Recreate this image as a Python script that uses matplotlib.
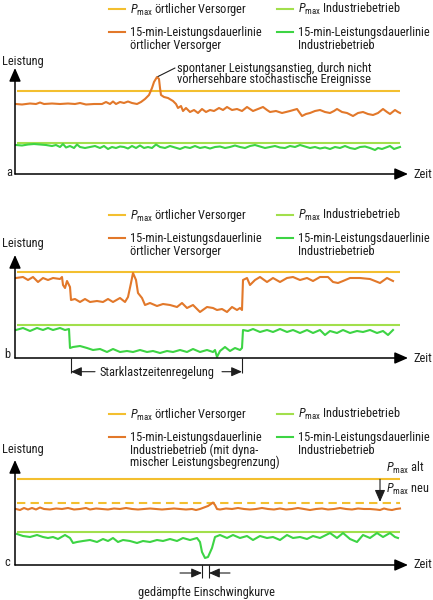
import matplotlib
matplotlib.use('Agg')
import matplotlib.pyplot as plt
from matplotlib import font_manager as fm
from matplotlib.lines import Line2D

# ---- data (time in arbitrary units, power in arbitrary units) ----
# panel a
PMAX_V_A = 83.3
PMAX_I_A = 31.3
ORANGE_A_T = [0, 6, 14, 20, 24, 28, 36, 44, 52, 59, 64, 70, 78, 86, 90, 94, 97, 100, 104, 108,
              112, 116, 121, 125, 129, 133, 136, 138, 141, 143, 144, 145, 148, 152, 157, 160, 162, 165, 167, 170,
              174, 178, 182, 186, 190, 194, 198, 203, 207, 211, 216, 221, 226, 231, 237, 242, 247, 251, 254, 260,
              266, 270, 274, 281, 286, 290, 294, 299, 304, 309, 314, 318, 321, 326, 331, 337, 342, 347, 352, 357,
              362, 367, 371, 374, 379, 382, 384]
ORANGE_A_P = [70, 69.5, 70.5, 70, 71.5, 70, 70.5, 70, 70.5, 70, 71, 69.5, 70, 70, 72, 70, 72.5, 70, 72, 71,
              72.5, 71, 70, 72, 75, 79, 86, 92, 97, 95, 86, 79, 77, 76, 73, 70, 66, 68, 63, 66,
              62, 64, 61, 65, 62, 64, 63, 66, 64, 67, 64, 65, 63, 67, 63, 65, 67, 64, 62, 63,
              61, 62, 63, 65, 58, 60, 61, 63, 64, 62, 61, 63, 65, 62, 61, 58, 61, 62, 60, 59,
              61, 65, 62, 60, 64, 62, 61]
GREEN_A_T = [0, 6, 12, 18, 24, 30, 36, 40, 44, 47, 50, 54, 58, 61, 64, 69, 74, 79, 84, 88,
             92, 96, 100, 104, 108, 112, 116, 120, 124, 128, 132, 136, 140, 144, 149, 154, 159, 164, 169, 174,
             179, 184, 189, 194, 199, 204, 209, 214, 219, 224, 229, 234, 239, 244, 249, 254, 259, 264, 269, 274,
             279, 284, 289, 294, 299, 304, 309, 314, 319, 324, 329, 334, 339, 344, 349, 354, 359, 362, 366, 370,
             374, 378, 381, 384]
GREEN_A_P = [29, 28.5, 29.5, 30, 29.5, 29, 28, 29, 27, 30, 26.5, 28, 26, 29.5, 27, 26, 27, 28, 26, 28,
             25, 27, 26, 27.5, 27, 25.5, 28, 26, 28.5, 26, 27, 26, 29.5, 27, 26, 28, 26.5, 25, 27, 26,
             28, 26, 27, 25.5, 27, 27.5, 26, 27, 28.5, 27, 26, 28, 29, 27.5, 26, 27, 28, 26.5, 26, 28,
             27, 29, 27.5, 26, 27, 25.5, 26.5, 25, 27, 26, 28, 26, 25, 27, 27.5, 26, 24, 26, 25, 26.5,
             28, 25, 26, 27]

# panel b
PMAX_V_B = 85.7
PMAX_I_B = 33
ORANGE_B_T = [0, 7, 12, 17, 22, 27, 32, 37, 44, 46, 47, 49, 51, 54, 55, 59, 64, 69, 74, 81,
              87, 92, 97, 104, 109, 112, 115, 117, 120, 122, 126, 129, 134, 141, 147, 154, 161, 166, 171, 177,
              184, 191, 197, 201, 206, 211, 216, 221, 224, 226, 227, 231, 234, 239, 244, 251, 257, 264, 271, 277,
              284, 291, 297, 304, 312, 317, 322, 327, 334, 344, 354, 364, 371, 377]
ORANGE_B_P = [80, 81, 78, 81, 76, 80, 78, 80, 79, 81, 73, 70, 77, 71, 58, 59, 56, 59, 56, 57,
              56, 59, 56, 60, 56, 61, 75, 85, 78, 65, 60, 53, 55, 52, 54, 53, 51, 55, 50, 53,
              46, 51, 50, 48, 49, 46, 51, 48, 50, 48, 78, 80, 73, 78, 81, 76, 80, 76, 80, 81,
              78, 80, 77, 81, 81, 76, 75, 77, 80, 80, 79, 75, 80, 77]
GREEN_B_T = [0, 7, 14, 21, 27, 32, 37, 44, 49, 53, 54, 57, 64, 71, 77, 84, 91, 97, 104, 111,
             117, 124, 131, 137, 144, 151, 157, 164, 171, 177, 184, 191, 197, 199, 201, 204, 209, 214, 219, 224,
             226, 227, 232, 237, 244, 251, 257, 264, 271, 277, 284, 291, 297, 304, 309, 314, 321, 327, 334, 341,
             347, 354, 361, 367, 372, 377]
GREEN_B_P = [28, 30, 27, 30, 28, 30, 28, 30, 28, 29, 10, 11, 12, 10, 8, 9, 6, 9, 6, 7,
             6, 8, 6, 7, 5, 7, 6, 8, 6, 9, 6, 8, 6, 8, 1, 7, 11, 7, 10, 8,
             10, 28, 27, 29, 26, 28, 26, 29, 26, 28, 25, 28, 25, 28, 23, 27, 25, 28, 25, 27,
             26, 28, 25, 27, 23, 28]
STARKLAST = (55, 226)

# panel c
PMAX_V_C_ALT = 85.7
PMAX_V_C_NEU = 62.3
PMAX_I_C = 33.3
ORANGE_C_T = [0, 4, 8, 12, 16, 20, 24, 28, 34, 40, 46, 52, 58, 64, 70, 74, 80, 86, 92, 98,
              104, 110, 116, 122, 128, 134, 140, 146, 152, 158, 164, 170, 176, 180, 184, 188, 192, 195, 197, 199,
              201, 204, 210, 216, 222, 228, 234, 240, 246, 252, 258, 264, 270, 276, 282, 288, 294, 300, 306, 312,
              318, 324, 330, 336, 342, 348, 354, 360, 364, 368, 372, 376, 380, 384]
ORANGE_C_P = [56, 55, 57, 55.5, 57, 55.5, 57.5, 56, 55.5, 56.5, 56, 57, 55.5, 56, 57, 55.5, 56.5, 56, 55.5, 56.5,
              56, 57, 56, 55.5, 56, 56.5, 56, 55.5, 56, 56.5, 56, 55.5, 56, 55, 56, 57.5, 59, 61, 62.5, 60,
              56, 55.5, 56.5, 56, 57, 56, 55.5, 56, 57, 56, 55.5, 56.5, 55.5, 56, 57, 56, 55, 56, 56.5, 55.5,
              56, 57, 56, 55.5, 56.5, 56, 56, 55.5, 55, 56.5, 55.5, 55, 56, 56.5]
GREEN_C_T = [1, 7, 14, 21, 27, 32, 37, 42, 49, 54, 57, 61, 67, 74, 81, 87, 92, 97, 102, 107,
             114, 121, 127, 134, 141, 147, 154, 161, 167, 174, 181, 184, 186, 189, 192, 196, 199, 204, 211, 217,
             224, 231, 237, 244, 251, 257, 264, 271, 277, 284, 291, 297, 304, 314, 321, 327, 334, 341, 347, 354,
             361, 367, 374, 379, 382]
GREEN_C_P = [31, 29, 28, 30, 28, 27, 28, 26, 30, 27, 22, 23, 24, 25, 23, 26, 24, 27, 23, 25,
             24, 22, 24, 23, 25, 24, 26, 24, 27, 25, 27, 23, 13, 7, 8, 17, 28, 30, 27, 30,
             27, 29, 25, 29, 27, 28, 25, 30, 27, 28, 26, 29, 27, 32, 27, 32, 26, 23, 30, 27,
             32, 28, 32, 28, 27]
EINSCHWING = (186, 193)

PMAX = r'$P_{\mathrm{max}}$'
LABEL_ORANGE_AB = ['15-min-Leistungsdauerlinie', 'örtlicher Versorger']
LABEL_ORANGE_C = ['15-min-Leistungsdauerlinie', 'Industriebetrieb (mit dyna-', 'mischer Leistungsbegrenzung)']


# ---- font: the original uses a condensed sans, take the narrowest one we have ----
def pick_font():
    entries = fm.fontManager.ttflist
    for name in ['Liberation Sans Narrow', 'Roboto Condensed', 'Open Sans Condensed',
                 'Noto Sans Condensed', 'DejaVu Sans Condensed']:
        if any(f.name == name for f in entries):
            return name, 'normal'
    for name in ['Noto Sans', 'Open Sans', 'Roboto', 'DejaVu Sans']:
        for f in entries:
            if f.name == name and f.stretch in ('condensed', 'semi-condensed') and f.style == 'normal':
                return name, f.stretch
    return 'Liberation Sans', 'normal'


FONT, STRETCH = pick_font()
plt.rcParams['font.family'] = [FONT, 'DejaVu Sans']
plt.rcParams['font.stretch'] = STRETCH
plt.rcParams['mathtext.fontset'] = 'custom'
plt.rcParams['mathtext.rm'] = FONT
plt.rcParams['mathtext.it'] = FONT + ':italic'

# ---- style ----
TEXT = '#1e1e1e'
YELLOW = '#f3bf2f'
ORANGE = '#e2782a'
LGREEN = '#a2df4c'
GREEN = '#3dd444'
LW = 1.5

W, H = 433, 600
fig = plt.figure(figsize=(W / 100, H / 100), dpi=100)

# size the text so that the long legend line is as wide as in the original (~133 px)
probe = fig.text(0, 0, '15-min-Leistungsdauerlinie', fontsize=9)
w = probe.get_window_extent(fig.canvas.get_renderer()).width
probe.remove()
FS = min(9.5, max(7, 9 * 133 / w))


def fx(px):
    return px / W


def fy(py):
    return 1 - py / H


def ftext(x, y, s, **kw):
    fig.text(fx(x), fy(y), s, fontsize=FS, color=TEXT, va='baseline', **kw)


def legend(y0, orange_lines):
    rows = [(109, y0, YELLOW, [PMAX + ' örtlicher Versorger']),
            (277, y0, LGREEN, [PMAX + ' Industriebetrieb']),
            (109, y0 + 23, ORANGE, orange_lines),
            (277, y0 + 23, GREEN, ['15-min-Leistungsdauerlinie', 'Industriebetrieb'])]
    for x, y, c, lines in rows:
        fig.add_artist(Line2D([fx(x), fx(x + 16)], [fy(y), fy(y)], color=c, lw=LW))
        for i, s in enumerate(lines):
            ftext(x + 21, y + 4.3 + i * 12.4, s)


def arrow(ax, start, end, ms=8):
    ax.annotate('', xy=end, xytext=start,
                arrowprops=dict(arrowstyle='-|>,head_length=0.8,head_width=0.35',
                                color=TEXT, lw=0.8, shrinkA=0, shrinkB=0,
                                mutation_scale=ms),
                annotation_clip=False)


def make_axes(top, bottom):
    ax = fig.add_axes([fx(15), fy(bottom), fx(408) - fx(15), fy(top) - fy(bottom)])
    ax.set_xlim(-1, 392)
    ax.set_ylim(0, bottom - top)
    ax.axis('off')
    for end in [(1, 0), (0, 1)]:
        ax.annotate('', xy=end, xytext=(0, 0), xycoords='axes fraction',
                    arrowprops=dict(arrowstyle='-|>,head_length=0.8,head_width=0.35',
                                    color='black', lw=1.1, shrinkA=0, shrinkB=0,
                                    mutation_scale=10))
    return ax


# ---- panel a ----
legend(9, LABEL_ORANGE_AB)
ax = make_axes(68, 174)
ax.hlines(PMAX_V_A, 1, 384, color=YELLOW, lw=LW)
ax.hlines(PMAX_I_A, 1, 384, color=LGREEN, lw=LW)
ax.plot(ORANGE_A_T, ORANGE_A_P, color=ORANGE, lw=LW)
ax.plot(GREEN_A_T, GREEN_A_P, color=GREEN, lw=LW)
peak = ORANGE_A_P.index(max(ORANGE_A_P))
ax.annotate('', xy=(ORANGE_A_T[peak] + 1, ORANGE_A_P[peak] + 0.5), xytext=(159, 106),
            arrowprops=dict(arrowstyle='-', color=TEXT, lw=0.8, shrinkA=0, shrinkB=0),
            annotation_clip=False)
ftext(177, 72, 'spontaner Leistungsanstieg, durch nicht')
ftext(177, 83.5, 'vorhersehbare stochastische Ereignisse')
ftext(2, 64.5, 'Leistung')
ftext(6, 176, 'a')
ftext(413, 178, 'Zeit')

# ---- panel b ----
legend(215, LABEL_ORANGE_AB)
ax = make_axes(255, 358)
ax.hlines(PMAX_V_B, 1, 384, color=YELLOW, lw=LW)
ax.hlines(PMAX_I_B, 1, 384, color=LGREEN, lw=LW)
ax.plot(ORANGE_B_T, ORANGE_B_P, color=ORANGE, lw=LW)
ax.plot(GREEN_B_T, GREEN_B_P, color=GREEN, lw=LW)
ax.vlines(STARKLAST, -15, 0, color=TEXT, lw=0.8, clip_on=False)
arrow(ax, (79, -13.7), (STARKLAST[0], -13.7))
arrow(ax, (206, -13.7), (STARKLAST[1], -13.7))
ax.text(sum(STARKLAST) / 2, -18, 'Starklastzeitenregelung', ha='center', va='baseline',
        fontsize=FS, color=TEXT)
ftext(2, 246.5, 'Leistung')
ftext(4, 358.5, 'b')
ftext(413, 361.5, 'Zeit')

# ---- panel c ----
legend(414, LABEL_ORANGE_C)
ax = make_axes(460, 565)
ax.hlines(PMAX_V_C_ALT, 1, 384, color=YELLOW, lw=LW)
ax.hlines(PMAX_V_C_NEU, 1, 384, color=YELLOW, lw=LW, linestyles=[(0, (4, 2.5))])
ax.hlines(PMAX_I_C, 1, 384, color=LGREEN, lw=LW)
ax.plot(ORANGE_C_T, ORANGE_C_P, color=ORANGE, lw=LW)
ax.plot(GREEN_C_T, GREEN_C_P, color=GREEN, lw=LW)
arrow(ax, (364, PMAX_V_C_ALT), (364, PMAX_V_C_NEU + 0.8), ms=9)
ftext(386, 472, PMAX + ' alt')
ftext(386, 493, PMAX + ' neu')
ax.vlines(EINSCHWING, -13, 0, color=TEXT, lw=0.8, clip_on=False)
arrow(ax, (164, -8), (EINSCHWING[0], -8))
arrow(ax, (214, -8), (EINSCHWING[1], -8))
ax.text(sum(EINSCHWING) / 2 + 1, -31, 'gedämpfte Einschwingkurve', ha='center', va='baseline',
        fontsize=FS, color=TEXT)
ftext(2, 453, 'Leistung')
ftext(4, 566, 'c')
ftext(413, 568, 'Zeit')

fig.savefig('out.png', dpi=100)
